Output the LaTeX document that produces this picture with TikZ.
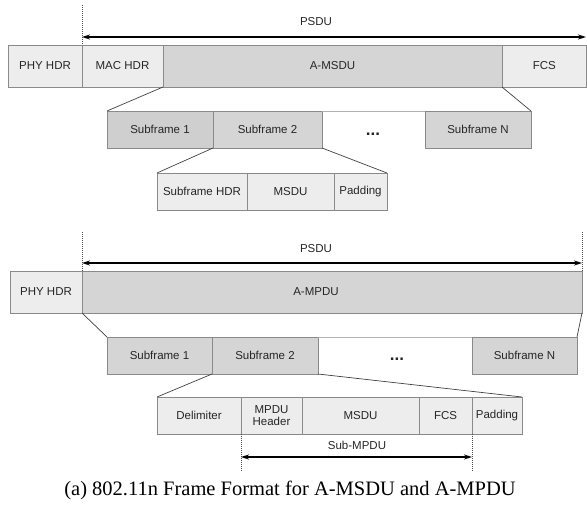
\documentclass[tikz,border=0pt]{standalone}
\usepackage{fontspec}
\setmainfont{Liberation Serif}
\newfontfamily\arial{Liberation Sans}
\usetikzlibrary{arrows.meta}
\definecolor{lightf}{HTML}{EDEDED}
\definecolor{midf}{HTML}{D5D5D5}
\definecolor{darkf}{HTML}{CFCFCF}
\definecolor{bord}{HTML}{8A8A8A}
\tikzset{
  cell/.style={draw=bord, line width=0.7pt, inner sep=0pt, outer sep=0pt, anchor=north west,
    font=\arial\fontsize{11.5}{12.5}\selectfont, text=black!85, align=center},
  lightcell/.style={cell, fill=lightf},
  midcell/.style={cell, fill=midf},
  darkcell/.style={cell, fill=darkf},
  conn/.style={draw=black!75, line width=0.7pt},
  dotln/.style={draw=black!70, line width=0.6pt, dash pattern=on 1pt off 1pt},
  psdu/.style={draw=black, line width=1.4pt, {Stealth[length=8pt,width=5pt]}-{Stealth[length=8pt,width=5pt]}},
  lbl/.style={font=\arial\fontsize{11.5}{12.5}\selectfont, text=black!85, inner sep=0pt},
  dotsnode/.style={font=\arial\bfseries\fontsize{17}{18}\selectfont, text=black!85, inner sep=0pt, anchor=base},
}
\begin{document}
\begin{tikzpicture}[x=1pt,y=-1pt]
\useasboundingbox (0,0) rectangle (587,504);
% ---------- top: A-MSDU ----------
\node[lightcell, minimum width=74pt, minimum height=42pt] (phy1) at (8,45) {PHY HDR};
\node[lightcell, minimum width=81pt, minimum height=42pt] (mac) at (82,45) {MAC HDR};
\node[midcell, minimum width=339pt, minimum height=42pt] (amsdu) at (163,45) {A-MSDU};
\node[lightcell, minimum width=84.5pt, minimum height=42pt] (fcs1) at (502,45) {FCS};
\coordinate (d1top) at (82,5);
\draw[dotln] (d1top) -- (mac.north west);
\coordinate (a1l) at (82,37);
\coordinate (a1r) at (586,37);
\draw[psdu] (a1l) -- (a1r);
\node[lbl] (psdu1) at (316,22) {PSDU};

\node[darkcell, minimum width=106pt, minimum height=37pt] (sf1) at (107,111) {Subframe 1};
\node[midcell, minimum width=109pt, minimum height=37pt] (sf2) at (213,111) {Subframe 2};
\node[midcell, minimum width=106pt, minimum height=37pt] (sfn) at (425,111) {Subframe N};
\draw[draw=black!30, line width=0.6pt] (sf2.north east) -- (sfn.north west);
\node[dotsnode] (dots1) at (373,135) {...};
\draw[conn] (amsdu.south west) -- (sf1.north west);
\draw[conn] (amsdu.south east) -- (sfn.north east);

\node[lightcell, minimum width=90pt, minimum height=37pt] (shdr) at (157,173) {Subframe HDR};
\node[lightcell, minimum width=87pt, minimum height=37pt] (msdu1) at (247,173) {MSDU};
\node[lightcell, minimum width=53pt, minimum height=37pt] (pad1) at (334,173) {Padding};
\draw[conn] (sf2.south west) -- (shdr.north west);
\draw[conn] (sf2.south east) -- (pad1.north east);

% ---------- bottom: A-MPDU ----------
\node[lightcell, minimum width=72pt, minimum height=42pt] (phy2) at (10,271) {PHY HDR};
\node[midcell, minimum width=500pt, minimum height=42pt] (ampdu) at (82,271) {};
\node[lbl] (ampdulbl) at (316,292) {A-MPDU};
\coordinate (d2l) at (82,232);
\coordinate (d2r) at (582,232);
\draw[dotln] (d2l) -- (ampdu.north west);
\draw[dotln] (d2r) -- (ampdu.north east);
\coordinate (a2l) at (82,263);
\coordinate (a2r) at (582,263);
\draw[psdu] (a2l) -- (a2r);
\node[lbl] (psdu2) at (316,249) {PSDU};

\node[midcell, minimum width=105pt, minimum height=37pt] (bsf1) at (107,337) {Subframe 1};
\node[midcell, minimum width=106pt, minimum height=37pt] (bsf2) at (212,337) {Subframe 2};
\node[midcell, minimum width=105pt, minimum height=37pt] (bsfn) at (472,337) {Subframe N};
\draw[draw=black!30, line width=0.6pt] (bsf2.north east) -- (bsfn.north west);
\node[dotsnode] (dots2) at (397,360) {...};
\draw[conn] (ampdu.south west) -- (bsf1.north west);
\draw[conn] (ampdu.south east) -- (bsfn.north east);

\node[lightcell, minimum width=84pt, minimum height=37pt] (delim) at (157,397) {Delimiter};
\node[lightcell, minimum width=61pt, minimum height=37pt] (mhdr) at (241,397) {MPDU\\Header};
\node[lightcell, minimum width=117pt, minimum height=37pt] (msdu2) at (302,397) {MSDU};
\node[lightcell, minimum width=53pt, minimum height=37pt] (fcs2) at (419,397) {FCS};
\node[lightcell, minimum width=50pt, minimum height=37pt] (pad2) at (472,397) {Padding};
\draw[conn] (bsf2.south west) -- (delim.north west);
\draw[conn] (bsf2.south east) -- (pad2.north east);

\coordinate (d3l) at (241,472);
\coordinate (d3r) at (472,472);
\draw[dotln] (mhdr.south west) -- (d3l);
\draw[dotln] (fcs2.south east) -- (d3r);
\coordinate (a3l) at (241,457);
\coordinate (a3r) at (472,457);
\draw[psdu] (a3l) -- (a3r);
\node[lbl] (submpdu) at (357,445) {Sub-MPDU};

\node[font=\fontsize{20.5}{22}\selectfont, inner sep=0pt] (cap) at (290,490) {(a) 802.11n Frame Format for A-MSDU and A-MPDU};
\end{tikzpicture}
\end{document}
